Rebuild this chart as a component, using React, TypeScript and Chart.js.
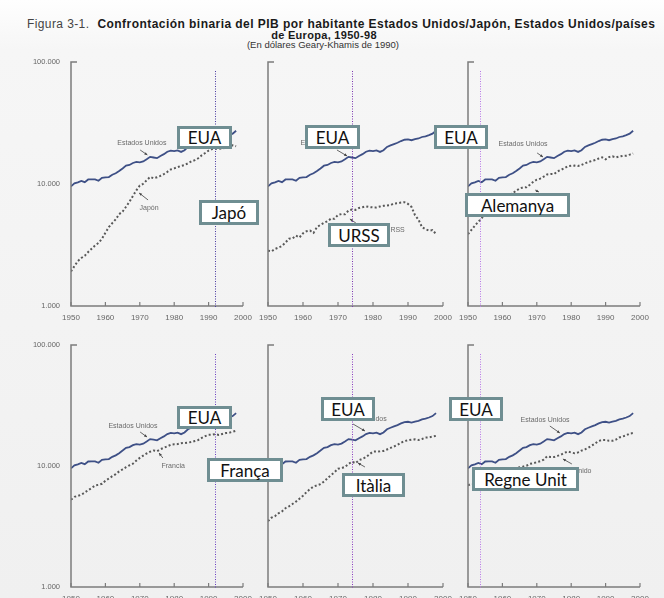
import React, { useEffect, useRef } from "react";
import { Chart, registerables } from "chart.js";
Chart.register(...registerables);

const years = [1950,1951,1952,1953,1954,1955,1956,1957,1958,1959,1960,1961,1962,1963,1964,1965,1966,1967,1968,1969,1970,1971,1972,1973,1974,1975,1976,1977,1978,1979,1980,1981,1982,1983,1984,1985,1986,1987,1988,1989,1990,1991,1992,1993,1994,1995,1996,1997,1998];

const usa = [9561,10116,10316,10613,10359,10897,10914,10920,10631,11230,11328,11402,11905,12242,12773,13419,14134,14330,14863,15179,15030,15304,15944,16689,16491,16284,16975,17567,18373,18789,18577,18856,18325,18920,20123,20717,21236,21788,22499,23059,23201,22849,23298,23616,24284,24614,25159,25854,27331];
const japan = [1921,2126,2336,2474,2582,2771,2948,3136,3289,3554,3986,4426,4777,5129,5668,5934,6506,7152,7983,8874,9714,10040,10734,11434,11145,11344,11669,12064,12585,13163,13428,13754,14078,14307,14773,15331,15679,16251,17185,17943,18789,19355,19482,19478,19591,19837,20494,20743,20413];
const ussr = [2841,2806,2937,3013,3106,3313,3566,3576,3777,3648,3945,4098,4155,3972,4439,4626,4806,4955,5202,5194,5575,5667,5643,6059,6176,6135,6363,6454,6559,6472,6427,6432,6535,6632,6657,6715,6924,6943,7042,7098,6871,6486,5551,5100,4428,4260,4149,4187,3893];
const germany = [3881,4206,4553,4905,5247,5797,6177,6492,6737,7177,7705,7952,8222,8386,8822,9186,9388,9397,9864,10440,10839,11077,11481,11966,12063,12041,12684,13072,13455,13993,14114,14149,14040,14329,14785,15140,15469,15701,16170,16558,15929,16604,16854,16506,16811,17006,17071,17404,17799];
const france = [5270,5553,5659,5783,6034,6324,6573,6906,6991,7132,7546,7880,8234,8563,9029,9385,9768,10139,10446,11083,11664,12194,12686,13123,13424,13266,13763,14159,14547,14977,15106,15164,15436,15472,15604,15795,16098,16411,17073,17637,18093,18142,18331,18082,18394,18734,18851,19191,19558];
const italy = [3502,3738,3854,4067,4214,4480,4646,4854,5081,5372,5676,6082,6446,6764,6919,7075,7437,7918,8404,8883,9508,9599,9832,10409,10849,10547,11170,11468,11839,12496,13149,13183,13219,13312,13698,14097,14504,14945,15563,16075,16313,16510,16614,16390,16705,17190,17263,17495,17759];
const uk = [6939,7123,7091,7346,7619,7868,7929,8017,7966,8240,8645,8857,8865,9149,9568,9752,9885,10049,10410,10552,10767,10941,11294,12022,11848,11847,12115,12384,12828,13167,12931,12747,12955,13404,13720,14165,14742,15393,16110,16414,16430,16149,16133,16522,17220,17550,17928,18545,18714];

const xTickValues = [1950, 1960, 1970, 1980, 1990, 2000];
const xTickLabels = ["1950", "1960", "1970", "1980", "1990", "2000"];
const yTickValues = [1000, 10000, 100000];
const yTickLabels = ["1.000", "10.000", "100.000"];

const titleLine1a = "Figura 3-1.";
const titleLine1b = "Confrontación binaria del PIB por habitante Estados Unidos/Japón, Estados Unidos/países";
const titleLine2 = "de Europa, 1950-98";
const titleLine3 = "(En dólares Geary-Khamis de 1990)";

type Ann = { text: string; x: number; y: number; ar: [number, number, number, number] };
type Panel = {
  L: number; R: number; T: number; B: number;
  other: number[];
  marker: number; markerColor: string;
  showY: boolean;
  anns: Ann[];
};

const panels: Panel[] = [
  { L: 71, R: 243, T: 62, B: 306, other: japan, marker: 1992, markerColor: "#4a3aa0", showY: true,
    anns: [
      { text: "Estados Unidos", x: 1970.6, y: 21700, ar: [1970.1, 19000, 1972.2, 17300] },
      { text: "Japón", x: 1972.7, y: 6300, ar: [1972.4, 7400, 1969.8, 8440] },
    ] },
  { L: 268, R: 443, T: 62, B: 306, other: ussr, marker: 1974, markerColor: "#7a35b0", showY: false,
    anns: [
      { text: "Estados Unidos", x: 1966.3, y: 21700, ar: [1969.7, 19000, 1972.6, 16960] },
      { text: "URSS", x: 1986.3, y: 4200, ar: [1975.1, 4790, 1973.4, 5170] },
    ] },
  { L: 468, R: 640, T: 62, B: 306, other: germany, marker: 1953.5, markerColor: "#b878e8", showY: false,
    anns: [
      { text: "Estados Unidos", x: 1966, y: 21300, ar: [1970.1, 17960, 1971.8, 16640] },
      { text: "Alemania", x: 1968, y: 7200, ar: [1969.5, 8930, 1970.6, 8600] },
    ] },
  { L: 71, R: 243, T: 345, B: 587, other: france, marker: 1992, markerColor: "#6a40c0", showY: true,
    anns: [
      { text: "Estados Unidos", x: 1968, y: 21400, ar: [1970.1, 19090, 1972.1, 17360] },
      { text: "Francia", x: 1979.7, y: 10000, ar: [1976.7, 11650, 1975.6, 12800] },
    ] },
  { L: 268, R: 443, T: 345, B: 587, other: italy, marker: 1974, markerColor: "#8a3ac0", showY: false,
    anns: [
      { text: "Estados Unidos", x: 1976.9, y: 24400, ar: [1974.3, 22230, 1977.7, 19460] },
      { text: "Italia", x: 1980, y: 6960, ar: [1977.7, 9810, 1975.7, 10590] },
    ] },
  { L: 468, R: 640, T: 345, B: 587, other: uk, marker: 1953.5, markerColor: "#b878e8", showY: false,
    anns: [
      { text: "Estados Unidos", x: 1972.4, y: 24000, ar: [1973.8, 21400, 1976.7, 18740] },
      { text: "Reino Unido", x: 1980.3, y: 9100, ar: [1980.2, 10390, 1977.6, 11430] },
    ] },
];

const boxes = [
  { t: "EUA", x: 177, y: 126, w: 55, h: 23 },
  { t: "Japó", x: 199, y: 200, w: 60, h: 25 },
  { t: "EUA", x: 305, y: 125, w: 55, h: 24 },
  { t: "URSS", x: 328, y: 223, w: 62, h: 24 },
  { t: "EUA", x: 434, y: 125, w: 54, h: 24 },
  { t: "Alemanya", x: 465, y: 193, w: 105, h: 24 },
  { t: "EUA", x: 177, y: 406, w: 55, h: 23 },
  { t: "França", x: 207, y: 458, w: 76, h: 24 },
  { t: "EUA", x: 321, y: 397, w: 54, h: 24 },
  { t: "Itàlia", x: 342, y: 473, w: 63, h: 24 },
  { t: "EUA", x: 449, y: 397, w: 54, h: 24 },
  { t: "Regne Unit", x: 472, y: 467, w: 107, h: 24 },
];

const PADL = 45, PADT = 12, PADR = 15, PADB = 18;

function PanelChart({ p }: { p: Panel }) {
  const ref = useRef<HTMLCanvasElement>(null);
  useEffect(() => {
    if (!ref.current) return;
    const deco = {
      id: "deco",
      afterDatasetsDraw(chart: any) {
        const ctx = chart.ctx;
        const xs = chart.scales.x, ys = chart.scales.y;
        const { left, right, top, bottom } = chart.chartArea;
        ctx.save();
        // annotations
        ctx.fillStyle = "#6a6a6a";
        ctx.strokeStyle = "#555";
        ctx.font = "7px 'Liberation Sans', Arial, sans-serif";
        ctx.textAlign = "center";
        ctx.textBaseline = "middle";
        p.anns.forEach((a) => {
          ctx.fillText(a.text, xs.getPixelForValue(a.x), ys.getPixelForValue(a.y));
          const x1 = xs.getPixelForValue(a.ar[0]), y1 = ys.getPixelForValue(a.ar[1]);
          const x2 = xs.getPixelForValue(a.ar[2]), y2 = ys.getPixelForValue(a.ar[3]);
          ctx.lineWidth = 0.9;
          ctx.beginPath();
          ctx.moveTo(x1, y1);
          ctx.lineTo(x2, y2);
          ctx.stroke();
          const ang = Math.atan2(y2 - y1, x2 - x1);
          ctx.fillStyle = "#444";
          ctx.beginPath();
          ctx.moveTo(x2, y2);
          ctx.lineTo(x2 - 3.2 * Math.cos(ang - 0.45), y2 - 3.2 * Math.sin(ang - 0.45));
          ctx.lineTo(x2 - 3.2 * Math.cos(ang + 0.45), y2 - 3.2 * Math.sin(ang + 0.45));
          ctx.closePath();
          ctx.fill();
          ctx.fillStyle = "#6a6a6a";
        });
        // axes
        ctx.strokeStyle = "#7c7c7c";
        ctx.lineWidth = 1.5;
        ctx.beginPath();
        ctx.moveTo(left + 6, top);
        ctx.lineTo(left, top);
        ctx.lineTo(left, bottom);
        ctx.lineTo(right, bottom);
        ctx.stroke();
        ctx.lineWidth = 1.2;
        xTickValues.forEach((v) => {
          const px = xs.getPixelForValue(v);
          ctx.beginPath();
          ctx.moveTo(px, bottom);
          ctx.lineTo(px, bottom - 4);
          ctx.stroke();
        });
        // tick labels
        ctx.fillStyle = "#666";
        ctx.font = "8px 'Liberation Sans', Arial, sans-serif";
        ctx.textAlign = "center";
        ctx.textBaseline = "middle";
        xTickValues.forEach((v, i) => ctx.fillText(xTickLabels[i], xs.getPixelForValue(v), bottom + 12));
        if (p.showY) {
          ctx.textAlign = "right";
          ctx.font = "7.5px 'Liberation Sans', Arial, sans-serif";
          yTickValues.forEach((v, i) => ctx.fillText(yTickLabels[i], left - 11, ys.getPixelForValue(v)));
        }
        // marker line
        const mx = Math.round(xs.getPixelForValue(p.marker)) + 0.5;
        ctx.strokeStyle = p.markerColor;
        ctx.lineWidth = 1;
        ctx.setLineDash([1, 1.5]);
        ctx.beginPath();
        ctx.moveTo(mx, top + 9);
        ctx.lineTo(mx, bottom + 1);
        ctx.stroke();
        ctx.restore();
      },
    };
    const chart = new Chart(ref.current, {
      type: "line",
      data: {
        datasets: [
          {
            data: years.map((y, i) => ({ x: y, y: usa[i] })),
            borderColor: "#3e5086",
            borderWidth: 1.8,
            pointRadius: 0,
            tension: 0,
          },
          {
            data: years.map((y, i) => ({ x: y, y: p.other[i] })),
            borderColor: "#585858",
            borderWidth: 2,
            borderDash: [2, 2.2],
            pointRadius: 0,
            tension: 0,
          },
        ],
      },
      options: {
        responsive: false,
        animation: false,
        devicePixelRatio: 1,
        layout: { padding: { left: PADL, top: PADT, right: PADR, bottom: PADB } },
        plugins: { legend: { display: false }, tooltip: { enabled: false } },
        events: [],
        scales: {
          x: { type: "linear", min: 1950, max: 2000, display: false },
          y: { type: "logarithmic", min: 1000, max: 100000, display: false },
        },
      },
      plugins: [deco],
    } as any);
    return () => chart.destroy();
  }, [p]);
  const w = p.R - p.L + PADL + PADR;
  const h = p.B - p.T + PADT + PADB;
  return (
    <canvas
      ref={ref}
      width={w}
      height={h}
      style={{ position: "absolute", left: p.L - PADL, top: p.T - PADT, width: w, height: h }}
    />
  );
}

export default function App() {
  return (
    <div
      style={{
        position: "absolute",
        left: 0,
        top: 0,
        width: 664,
        height: 598,
        overflow: "hidden",
        background: "linear-gradient(#fefefe 0px, #f6f6f6 50px, #f0f0f0 598px)",
        fontFamily: "'Liberation Sans', Arial, sans-serif",
      }}
    >
      <div style={{ position: "absolute", left: 27, top: 18, whiteSpace: "nowrap", fontSize: 12, color: "#1a1a1a", lineHeight: "12px", letterSpacing: "0.45px" }}>
        <span style={{ color: "#444", letterSpacing: "0.4px" }}>{titleLine1a}</span>
        <span style={{ fontWeight: "bold", marginLeft: 8 }}>{titleLine1b}</span>
      </div>
      <div style={{ position: "absolute", left: 0, width: 648, top: 29, textAlign: "center", fontSize: 11, fontWeight: "bold", color: "#1a1a1a", lineHeight: "12px", letterSpacing: "0.3px" }}>
        {titleLine2}
      </div>
      <div style={{ position: "absolute", left: 0, width: 646, top: 38.5, textAlign: "center", fontSize: 9.5, color: "#333", lineHeight: "12px" }}>
        {titleLine3}
      </div>
      {panels.map((p, i) => (
        <PanelChart key={i} p={p} />
      ))}
      {boxes.map((b, i) => (
        <div
          key={i}
          style={{
            position: "absolute",
            left: b.x,
            top: b.y,
            width: b.w,
            height: b.h,
            boxSizing: "border-box",
            border: "3px solid #6f8e92",
            background: "#fff",
            display: "flex",
            alignItems: "center",
            justifyContent: "center",
            fontFamily: "Lato, 'Open Sans', sans-serif",
            fontSize: 17,
            color: "#111",
            whiteSpace: "nowrap",
          }}
        >
          {b.t}
        </div>
      ))}
    </div>
  );
}
